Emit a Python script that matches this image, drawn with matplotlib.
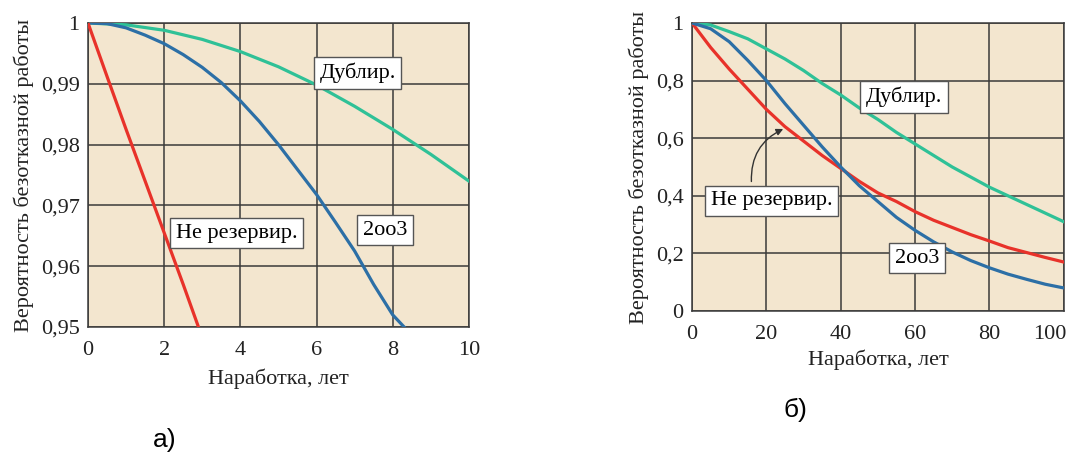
import matplotlib.pyplot as plt
import numpy as np
from matplotlib.ticker import FixedLocator, FuncFormatter
from matplotlib.transforms import offset_copy

plt.rcParams["font.family"] = ["Liberation Serif", "DejaVu Serif"]

# panel a) - first 10 years
t_red_a = [0, 0.5, 1, 1.5, 2, 2.5, 2.9]
p_red_a = [1, 0.9912, 0.9825, 0.974, 0.9655, 0.957, 0.95]
t_blue_a = [0, 0.5, 1, 1.5, 2, 2.5, 3, 3.5, 4, 4.5, 5, 5.5, 6, 6.5, 7, 7.5, 8, 8.3]
p_blue_a = [1, 0.9999, 0.9992, 0.998, 0.9966, 0.9948, 0.9927, 0.9902, 0.9872,
            0.9838, 0.98, 0.9759, 0.9718, 0.9672, 0.9625, 0.957, 0.952, 0.95]
t_green_a = [0, 1, 2, 3, 4, 5, 6, 7, 8, 9, 10]
p_green_a = [1, 0.9997, 0.9988, 0.9973, 0.9953, 0.9928, 0.9898, 0.9863, 0.9825, 0.9784, 0.974]

# panel б) - 100 years
t_b = [0, 5, 10, 15, 20, 25, 30, 35, 40, 45, 50, 55, 60, 65, 70, 75, 80, 85, 90, 95, 100]
p_red_b = [1, 0.915, 0.84, 0.77, 0.70, 0.64, 0.59, 0.54, 0.495, 0.45, 0.41, 0.38,
           0.345, 0.315, 0.29, 0.265, 0.243, 0.22, 0.203, 0.186, 0.17]
p_blue_b = [1, 0.98, 0.935, 0.87, 0.80, 0.72, 0.645, 0.57, 0.50, 0.435, 0.38, 0.325,
            0.28, 0.24, 0.205, 0.175, 0.15, 0.128, 0.11, 0.093, 0.08]
p_green_b = [1, 0.993, 0.97, 0.945, 0.91, 0.875, 0.835, 0.79, 0.75, 0.705, 0.665, 0.62,
             0.58, 0.54, 0.50, 0.465, 0.43, 0.40, 0.37, 0.34, 0.31]

xticks_a = [0, 2, 4, 6, 8, 10]
yticks_a = [0.95, 0.96, 0.97, 0.98, 0.99, 1]
xticks_b = [0, 20, 40, 60, 80, 100]
yticks_b = [0, 0.2, 0.4, 0.6, 0.8, 1]

RED = "#e8322a"
BLUE = "#2c6fa6"
GREEN = "#2fc197"
BG = "#f3e6cf"
GRID = "#3a3a3a"
FS = 16
LW = 2.3


def fmt(v, pos):
    if abs(v - round(v)) < 1e-9:
        return str(int(round(v)))
    return ("%g" % v).replace(".", ",")


def style(ax, xt, yt, xpad, lpad):
    ax.set_facecolor(BG)
    ax.xaxis.set_major_locator(FixedLocator(xt))
    ax.yaxis.set_major_locator(FixedLocator(yt))
    ax.yaxis.set_major_formatter(FuncFormatter(fmt))
    ax.grid(True, color=GRID, linewidth=1.1)
    ax.set_axisbelow(True)
    ax.tick_params(length=0, labelsize=FS, colors="#222222")
    ax.tick_params(axis="x", pad=xpad)
    ax.tick_params(axis="y", pad=6)
    for s in ax.spines.values():
        s.set_color(GRID)
        s.set_linewidth(1.1)
    ax.set_xlabel("Наработка, лет", fontsize=FS, color="#222222", labelpad=lpad)
    ax.set_ylabel("Вероятность безотказной работы", fontsize=FS, color="#222222", labelpad=5)


def label(ax, x, y, s):
    ax.text(x, y, s, fontsize=FS, ha="center", va="center", zorder=5,
            bbox=dict(boxstyle="square,pad=0.25", fc="white", ec="#555555", lw=1))


fig = plt.figure(figsize=(10.68, 4.57), dpi=100)

ax1 = fig.add_axes([0.0824, 0.2845, 0.3566, 0.6652])
ax1.plot(t_green_a, p_green_a, color=GREEN, lw=LW, zorder=3)
ax1.plot(t_blue_a, p_blue_a, color=BLUE, lw=LW, zorder=3)
ax1.plot(t_red_a, p_red_a, color=RED, lw=LW, zorder=3)
ax1.set_xlim(0, 10)
ax1.set_ylim(0.95, 1)
style(ax1, xticks_a, yticks_a, 10, 6)
label(ax1, 7.08, 0.9918, "Дублир.")
label(ax1, 3.9, 0.9654, "Не резервир.")
label(ax1, 7.8, 0.9659, "2oo3")

ax2 = fig.add_axes([0.648, 0.3195, 0.348, 0.6302])
ax2.plot(t_b, p_green_b, color=GREEN, lw=LW, zorder=3)
ax2.plot(t_b, p_red_b, color=RED, lw=LW, zorder=3)
ax2.plot(t_b, p_blue_b, color=BLUE, lw=LW, zorder=3)
ax2.set_xlim(0, 100)
ax2.set_ylim(0, 1)
style(ax2, xticks_b, yticks_b, 10, 4)
label(ax2, 57, 0.743, "Дублир.")
label(ax2, 21.4, 0.383, "Не резервир.")
label(ax2, 60.5, 0.183, "2oo3")
ax2.annotate("", xy=(25.2, 0.636), xytext=(16, 0.44), zorder=4,
             arrowprops=dict(arrowstyle="-|>", color="#333333", lw=1,
                             mutation_scale=10, connectionstyle="arc3,rad=-0.35"))

fig.text(165 / 1068, 1 - 440 / 457, "а)", fontsize=19, family="Liberation Sans",
         ha="center", va="center")
fig.text(795 / 1068, 1 - 410 / 457, "б)", fontsize=19, family="Liberation Sans",
         ha="center", va="center")

# "100" sits a bit left of the right edge, as in the original
fig.canvas.draw()
t = ax2.xaxis.get_major_ticks()[-1]
t.label1.set_transform(offset_copy(t.label1.get_transform(), fig=fig, x=-14, units="dots"))

fig.savefig("out.png", dpi=100, facecolor="white")
